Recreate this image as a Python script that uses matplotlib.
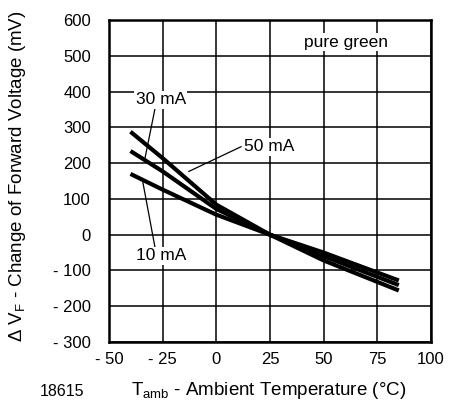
import numpy as np
import matplotlib
matplotlib.use("Agg")
import matplotlib.pyplot as plt

plt.rcParams['font.family'] = ['Liberation Sans', 'DejaVu Sans']
plt.rcParams['mathtext.fontset'] = 'custom'
plt.rcParams['mathtext.rm'] = 'Liberation Sans'
plt.rcParams['mathtext.it'] = 'Liberation Sans'

# temperatures (deg C) and change of forward voltage (mV)
temp = [-40, -25, 0, 25, 50, 85]
dv_50ma = [288, 214, 84, 0, -72, -156]
dv_30ma = [234, 177, 72, 0, -60, -141]
dv_10ma = [170, 126, 56, 0, -50, -128]

xticks = [-50, -25, 0, 25, 50, 75, 100]
xlabels = ["- 50", "- 25", "0", "25", "50", "75", "100"]
yticks = [-300, -200, -100, 0, 100, 200, 300, 400, 500, 600]
ylabels = ["- 300", "- 200", "- 100", "0", "100", "200", "300", "400", "500", "600"]

fig = plt.figure(figsize=(4.51, 4.09), dpi=100)
ax = fig.add_axes([0.2417, 0.1638, 0.714, 0.787])

for y in (dv_50ma, dv_30ma, dv_10ma):
    ax.plot(temp, y, color="black", lw=3, solid_capstyle="butt", zorder=3)

ax.set_xlim(-50, 100)
ax.set_ylim(-300, 600)
ax.set_xticks(xticks)
ax.set_xticklabels(xlabels)
ax.set_yticks(yticks)
ax.set_yticklabels(ylabels)
ax.tick_params(length=0, labelsize=12)
ax.tick_params(axis="y", pad=13)
ax.tick_params(axis="x", pad=7)
ax.grid(True, color="black", lw=1.1)
ax.set_axisbelow(True)
for s in ax.spines.values():
    s.set_linewidth(1.8)

bbox = dict(facecolor="white", edgecolor="none", pad=1)
lead = dict(color="black", lw=0.9, zorder=4)

# leader lines
ax.plot([-28.5, -33.2], [355, 215], **lead)
ax.plot([11.5, -12.8], [246, 177], **lead)
ax.plot([-28.5, -34.3], [-38, 149], **lead)

ax.text(-25.8, 377, "30 mA", ha="center", va="center", fontsize=12.5, bbox=bbox, zorder=5)
ax.text(24.5, 246, "50 mA", ha="center", va="center", fontsize=12.5, bbox=bbox, zorder=5)
ax.text(-25.8, -59, "10 mA", ha="center", va="center", fontsize=12.5, bbox=bbox, zorder=5)
ax.text(60.4, 538, "pure green", ha="center", va="center", fontsize=12.5, bbox=bbox, zorder=5)

fig.text(0.038, 0.57, r"$\Delta$ V$_{\mathregular{F}}$ - Change of Forward Voltage (mV)",
         rotation=90, ha="center", va="center", fontsize=13.5)
fig.text(0.596, 0.046, r"T$_{\mathregular{amb}}$ - Ambient Temperature (°C)",
         ha="center", va="center", fontsize=13.5)
fig.text(0.137, 0.044, "18615", ha="center", va="center", fontsize=11.5)

fig.savefig("out.png", dpi=100)
